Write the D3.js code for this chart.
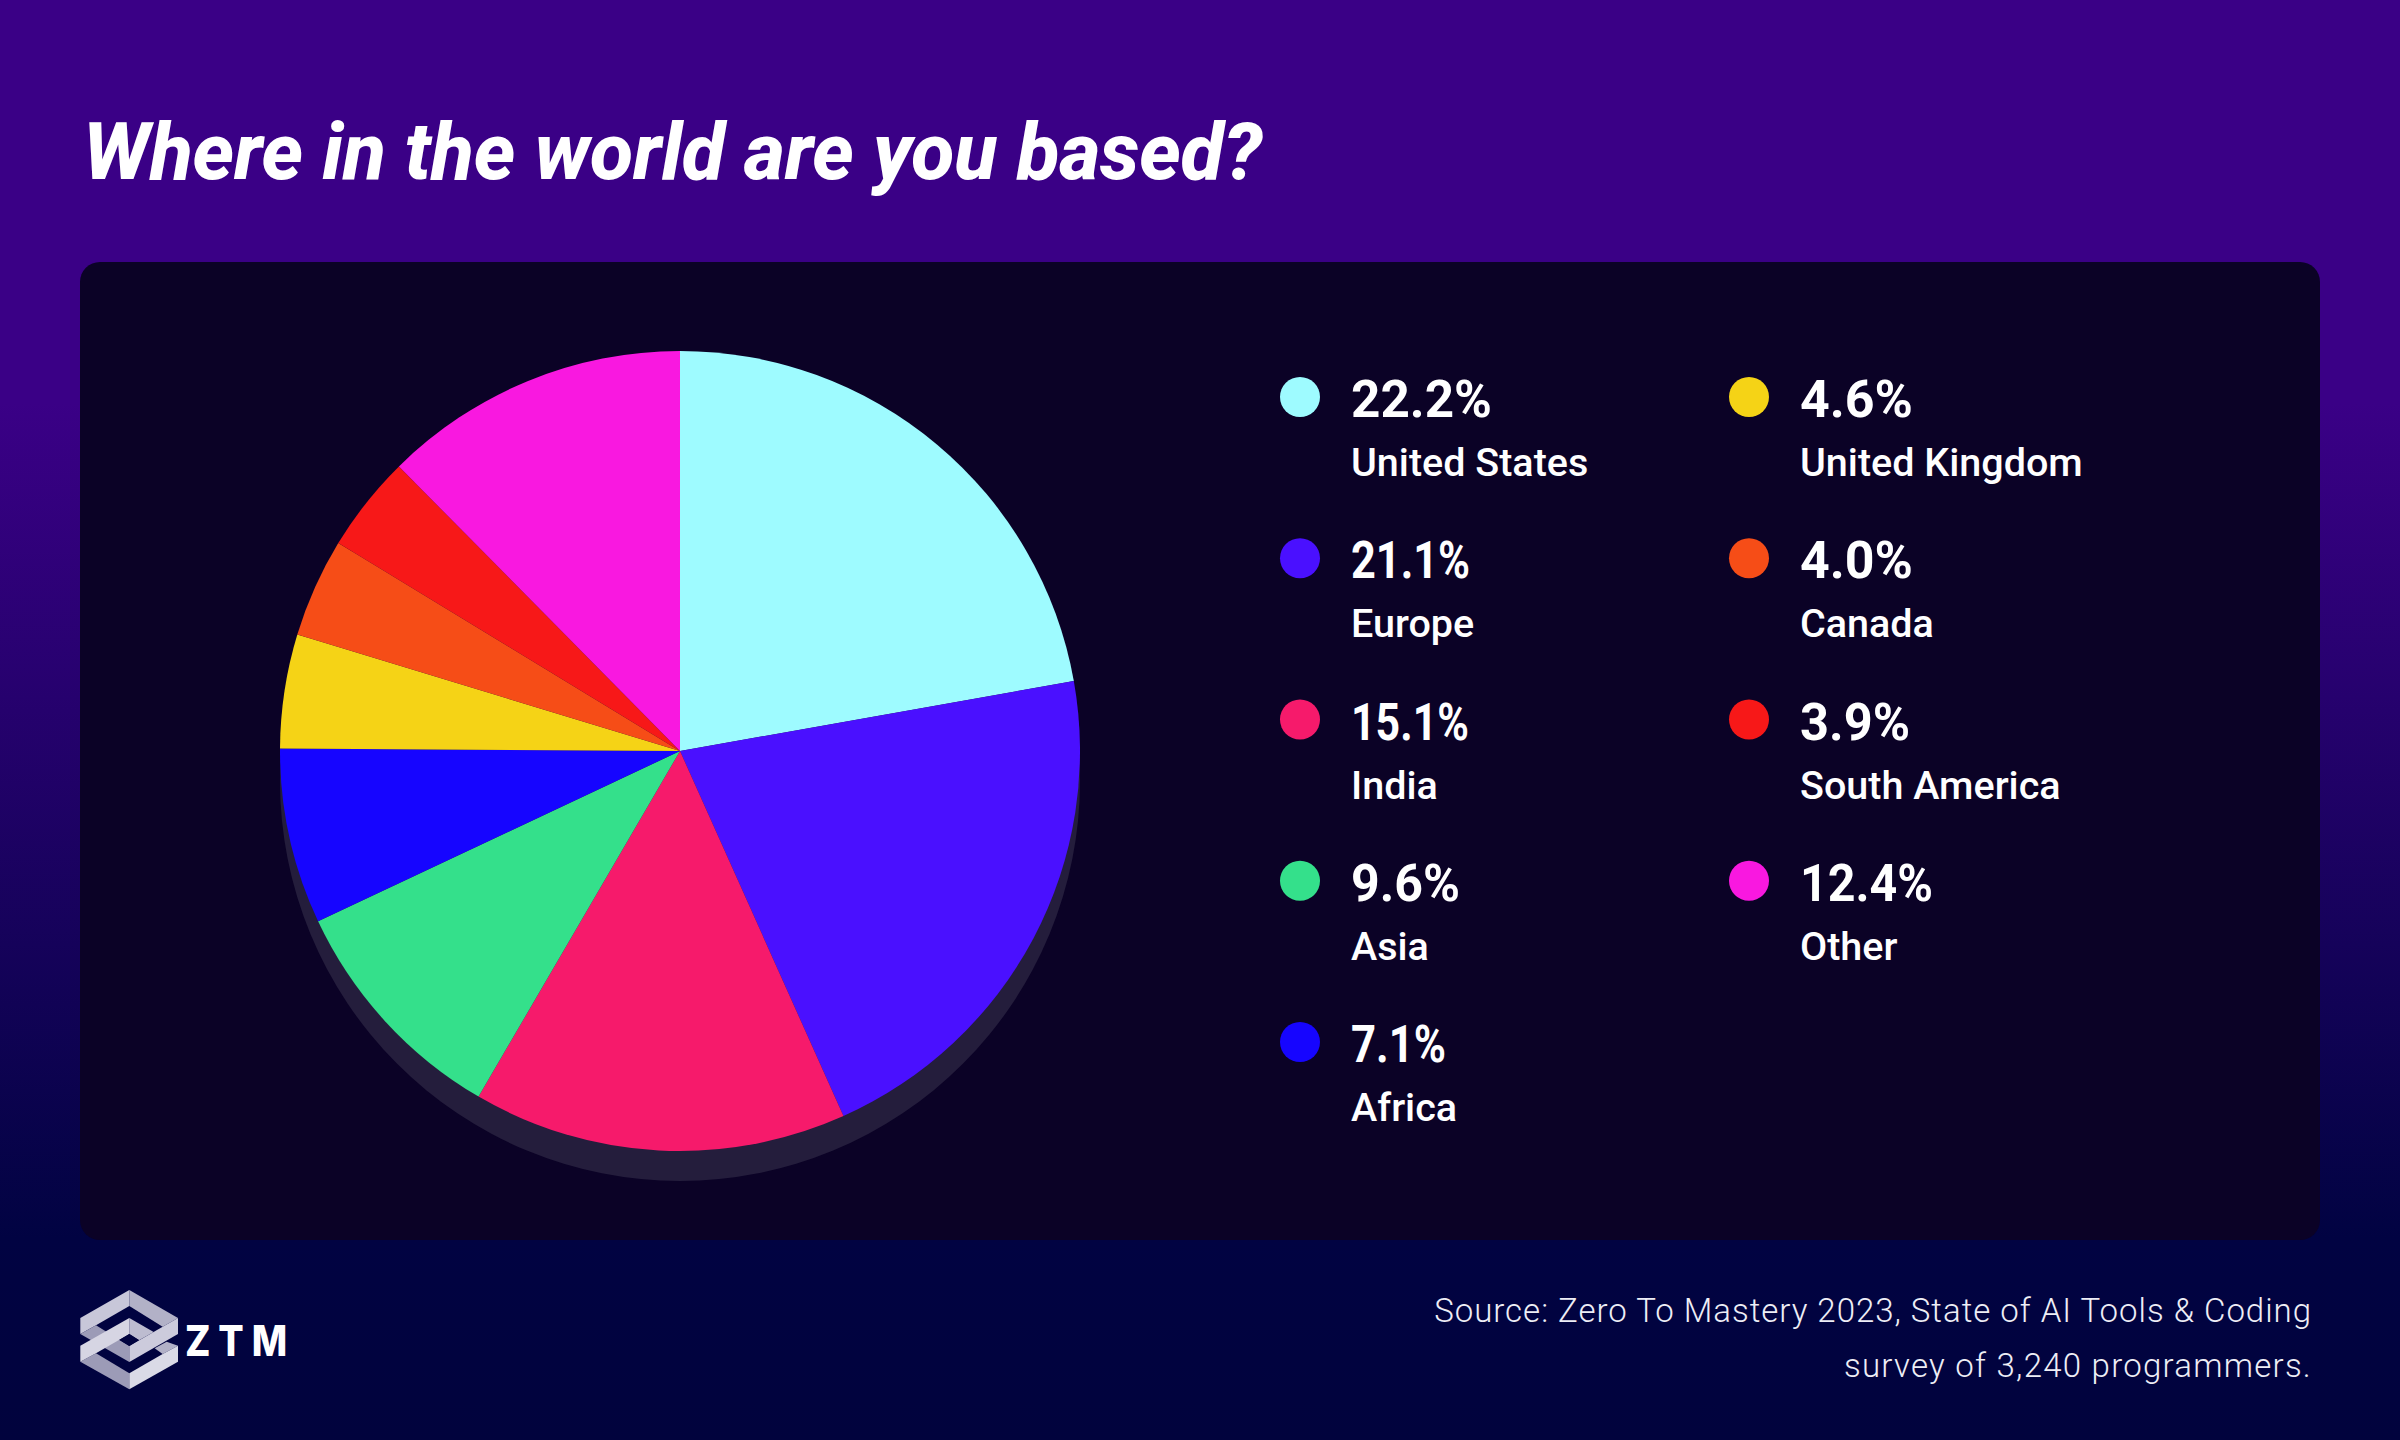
<!DOCTYPE html>
<html>
<head>
<meta charset="utf-8">
<script src="https://cdn.jsdelivr.net/npm/d3@7"></script>
<style>
  html, body { margin: 0; padding: 0; background: #01033f; }
  svg { display: block; font-family: Roboto, sans-serif; }
</style>
</head>
<body>
<svg id="chart" width="2400" height="1440"></svg>
<script>
var regions = ["United States", "Europe", "India", "Asia", "Africa", "United Kingdom", "Canada", "South America", "Other"];
var shares = [22.2, 21.1, 15.1, 9.6, 7.1, 4.6, 4.0, 3.9, 12.4];
var sliceColors = ["#9efbff", "#4a10ff", "#f61a6b", "#34e08b", "#1605ff", "#f5d316", "#f64d17", "#f71818", "#f918e0"];
// Roboto has wide tabular digits, so the percent labels get squeezed to these widths
var shareLabelWidths = [141, 119, 118, 109, 95, 113, 113, 110, 133];

var svg = d3.select("#chart");

// page background
var grad = svg.append("defs").append("linearGradient")
  .attr("id", "bg").attr("x1", 0).attr("y1", 0).attr("x2", 0).attr("y2", 1);
grad.append("stop").attr("offset", "0.28").attr("stop-color", "#3a0086");
grad.append("stop").attr("offset", "0.86").attr("stop-color", "#010342");
grad.append("stop").attr("offset", "1").attr("stop-color", "#01033d");

svg.append("rect").attr("width", 2400).attr("height", 1440).attr("fill", "url(#bg)");

svg.append("text")
  .attr("x", 83).attr("y", 179)
  .attr("fill", "#fff")
  .style("font-size", "79px").style("font-weight", 800).style("font-style", "italic")
  .style("letter-spacing", "-0.2px")
  .text("Where in the world are you based?");

svg.append("rect")
  .attr("x", 80).attr("y", 262).attr("width", 2240).attr("height", 978).attr("rx", 20)
  .attr("fill", "#0b0226");

// pie
var radius = 400;
var pie = d3.pie().sort(null).value(d => d);
var arc = d3.arc().innerRadius(0).outerRadius(radius);

var pieG = svg.append("g").attr("transform", "translate(680,751)");

pieG.append("circle").attr("cy", 30).attr("r", radius).attr("fill", "#241d3c");

pieG.selectAll("path")
  .data(pie(shares))
  .enter()
  .append("path")
  .attr("d", arc)
  .attr("fill", (d, i) => sliceColors[i]);

// legend
var colX = d3.scaleOrdinal().domain([0, 1]).range([1300, 1749]);
var rowY = d3.scaleLinear().domain([0, 4]).range([397, 1042]);

var items = svg.selectAll("g.item")
  .data(regions)
  .enter()
  .append("g")
  .attr("class", "item")
  .attr("transform", (d, i) => `translate(${colX(i < 5 ? 0 : 1)},${rowY(i < 5 ? i : i - 5)})`);

items.append("circle").attr("r", 20).attr("fill", (d, i) => sliceColors[i]);

items.append("text")
  .attr("x", 51).attr("y", 20)
  .attr("fill", "#fff")
  .attr("textLength", (d, i) => shareLabelWidths[i])
  .attr("lengthAdjust", "spacingAndGlyphs")
  .style("font-size", "51px").style("font-weight", 700)
  .text((d, i) => shares[i].toFixed(1) + "%");

items.append("text")
  .attr("x", 51).attr("y", 79)
  .attr("fill", "#fff")
  .style("font-size", "39.5px").style("font-weight", 500)
  .text(d => d);

// source note
var note = svg.append("g")
  .attr("fill", "#eeeef6")
  .attr("text-anchor", "end")
  .style("font-size", "33px").style("font-weight", 300);
note.append("text").attr("x", 2312).attr("y", 1322).style("letter-spacing", "0.98px")
  .text("Source: Zero To Mastery 2023, State of AI Tools & Coding");
note.append("text").attr("x", 2312).attr("y", 1377).style("letter-spacing", "1.25px")
  .text("survey of 3,240 programmers.");

// logo, points measured at 3x from its top left corner
var logoParts = [
  ["#c8c7d9", "31,114 178,30 178,78 78,136 31,162"],
  ["#b2b1c7", "178,30 324,114 278,140 178,78"],
  ["#9c9bb7", "78,136 178,198 178,246 31,162"],
  ["#9c9bb7", "31,245 78,220 178,280 178,328"],
  ["#b2b1c7", "254,205 290,185 324,197 278,222"],
  ["#dadae6", "324,197 324,245 178,328 178,280 278,222"],
  ["#bdbcd0", "178,114 251,156 207,181 178,162"],
  ["#d6d5e3", "31,197 178,114 178,162 78,220 31,245"],
  ["#cccbdc", "324,114 324,162 178,246 178,198 278,140"],
  ["#01033f", "178,162 207,180 178,198 148,180"]
];
svg.append("g")
  .attr("transform", "translate(70,1280) scale(0.3333)")
  .selectAll("polygon")
  .data(logoParts)
  .enter()
  .append("polygon")
  .attr("fill", d => d[0])
  .attr("points", d => d[1]);

svg.append("text")
  .attr("x", 185).attr("y", 1356)
  .attr("fill", "#fff")
  .attr("textLength", 110)
  .attr("lengthAdjust", "spacingAndGlyphs")
  .style("font-family", "Inter, sans-serif")
  .style("font-size", "43px").style("font-weight", 800).style("letter-spacing", "9px")
  .text("ZTM");
</script>
</body>
</html>
